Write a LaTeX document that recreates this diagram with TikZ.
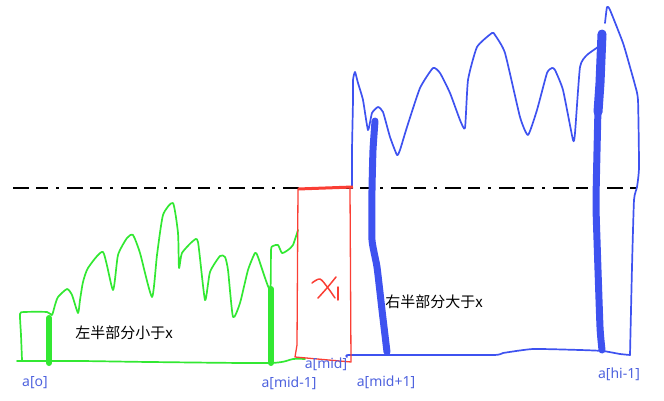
\documentclass[tikz,border=0pt]{standalone}
\usepackage{fontspec}
\newfontfamily\cjk{Noto Sans CJK SC}
\newfontfamily\lblfont{Noto Sans}
\definecolor{penGreen}{RGB}{50,232,50}
\definecolor{penRed}{RGB}{250,62,52}
\definecolor{penBlue}{RGB}{62,82,240}
\definecolor{lblBlue}{RGB}{78,98,222}
\tikzset{
  trazo/.style={line width=1.7pt, line cap=round, line join=round},
  barra/.style={line width=7pt, line cap=round, line join=round},
  corte/.style={line width=1.5pt, black, dash pattern=on 16pt off 7pt on 12pt off 8pt on 3pt off 8pt},
  etiq/.style={text=lblBlue, font=\lblfont\fontsize{14}{16}\selectfont, inner sep=0pt},
  texto/.style={text=black, font=\cjk\fontsize{15}{17}\selectfont, inner sep=0pt},
}

\begin{document}
\begin{tikzpicture}[x=1pt, y=-1pt]
  \useasboundingbox (0,0) rectangle (664,401);
  % reference value
  \draw[corte] (13,188) -- (637,188);
  % left half (green)
  \draw[trazo, penGreen] plot[smooth, tension=0.35] coordinates {
    (22,360) (21,335) (20,314) (24,312) (47,312) (52,315) (55,305) (58,297)
    (67,289) (72,295) (78,313) (80,300) (83,282) (88,268) (103,252) (113,290)
    (118,255) (127,238) (133,235) (140,253) (152,297) (157,255) (163,215)
    (173,203) (178,233) (179,268) (182,253) (193,241) (198,242) (205,300)
    (210,272) (220,256) (225,257) (228,270) (233,317) (240,303) (248,270)
    (255,253) (258,257) (270,290) (271,250) (273,246) (278,245) (282,253)
    (288,250) (293,245) (298,230)};
  \draw[trazo, penGreen] plot[smooth, tension=0.4] coordinates {
    (17,361) (80,361) (150,362) (270,363) (293,359) (305,359)};
  \draw[barra, line width=6pt, penGreen] (49,318) -- (49,363);
  \draw[barra, line width=6pt, penGreen] (271,289) -- (271,363);
  % right half (blue)
  \draw[trazo, penBlue] plot[smooth, tension=0.3] coordinates {
    (352,188) (352,150) (353,100) (353,80) (355,72) (358,83) (363,100)
    (368,130) (372,113) (378,107) (383,112) (390,137) (397,155) (400,150)
    (407,127) (420,88) (433,68) (440,73) (450,93) (460,120) (465,128)
    (468,80) (477,47) (492,33) (495,35) (505,53) (520,117) (528,135)
    (537,110) (547,73) (552,68) (555,70) (563,90) (573,140) (575,133)
    (580,67) (587,55) (601,45)};
  \draw[trazo, penBlue] plot[smooth, tension=0.3] coordinates {
    (605,23) (607,7) (610,10) (623,43) (630,67) (635,85) (638,100)
    (639,167) (637,187) (634,200) (632,267) (630,355)};
  \draw[trazo, penBlue] plot[smooth, tension=0.3] coordinates {
    (630,355) (620,354) (603,351) (580,350) (533,349) (503,353) (493,355)
    (387,355) (348,355) (347,357)};
  \draw[barra, penBlue] plot[smooth, tension=0.3] coordinates {
    (375,121) (373,150) (372,190) (372,240) (377,267) (382,310) (387,352)};
  \draw[barra, line width=9pt, penBlue] (602,34) -- (600,83) -- (598,112);
  \draw[barra, penBlue] plot[smooth, tension=0.3] coordinates {
    (598,108) (596,200) (597,240) (600,327) (602,350)};
  % middle element (red)
  \draw[trazo, penRed, line width=1.3pt] (298,189) -- (297,345) -- (295,357)
    -- (351,362) -- (350,188);
  \draw[penRed, line width=3pt] (298,189) -- (353,187);
  \draw[trazo, penRed, line width=1.5pt] plot[smooth] coordinates {
    (312,283) (320,279) (328,288) (335,298)};
  \draw[trazo, penRed, line width=1.5pt] plot[smooth] coordinates {
    (336,277) (327,288) (318,298)};
  \draw[trazo, penRed, line width=1.5pt] (338,287) -- (338,300);
  % texts
  \node[texto] (izq) at (124,333) {左半部分小于x};
  \node[texto] (der) at (434,302) {右半部分大于x};
  \node[etiq] (a0) at (35,383) {a[o]};
  \node[etiq] (amm) at (289,383) {a[mid-1]};
  \node[etiq] (am) at (326,364) {a[mid]};
  \node[etiq] (amp) at (386,382) {a[mid+1]};
  \node[etiq] (ahi) at (619,374) {a[hi-1]};
\end{tikzpicture}
\end{document}
